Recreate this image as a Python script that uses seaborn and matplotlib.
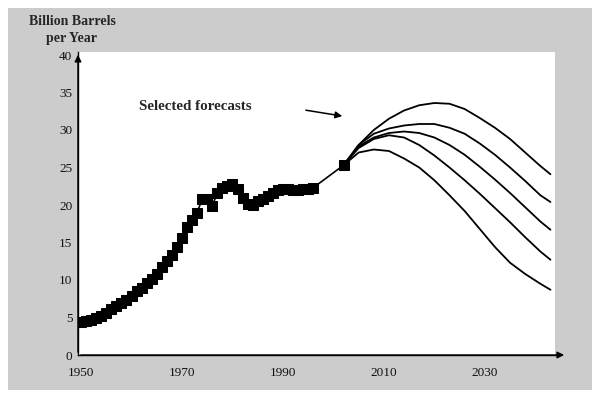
import pandas as pd
import seaborn as sns
import matplotlib.pyplot as plt
from matplotlib.patches import Rectangle

# historical production, billion barrels per year
hist_years = list(range(1950, 1997)) + [2002]
hist_values = [4.4, 4.5, 4.7, 4.9, 5.2, 5.6, 6.2, 6.6, 7.0, 7.3,
               7.9, 8.6, 9.0, 9.6, 10.2, 10.8, 11.7, 12.6, 13.4, 14.4,
               15.6, 17.1, 18.0, 19.0, 20.8, 20.8, 19.9, 21.6, 22.3, 22.5,
               22.8, 22.2, 21.0, 20.1, 20.0, 20.6, 20.8, 21.2, 21.6, 22.0,
               22.1, 22.1, 22.0, 22.0, 22.1, 22.2, 22.3, 25.3]

# selected forecasts
fc_years = [2002, 2005, 2008, 2011, 2014, 2017, 2020, 2023, 2026, 2029, 2032, 2035, 2038, 2041, 2043]
fc_1 = [25.3, 28.0, 30.0, 31.5, 32.6, 33.3, 33.6, 33.5, 32.8, 31.6, 30.3, 28.8, 27.0, 25.2, 24.1]
fc_2 = [25.3, 28.0, 29.5, 30.2, 30.6, 30.8, 30.8, 30.3, 29.5, 28.2, 26.7, 25.0, 23.2, 21.3, 20.4]
fc_3 = [25.3, 27.8, 29.0, 29.6, 29.8, 29.6, 29.0, 28.0, 26.7, 25.1, 23.4, 21.6, 19.7, 17.8, 16.7]
fc_4 = [25.3, 27.6, 28.8, 29.3, 29.0, 28.0, 26.6, 25.0, 23.3, 21.5, 19.6, 17.7, 15.7, 13.8, 12.7]
fc_5 = [25.3, 27.0, 27.4, 27.2, 26.2, 25.0, 23.3, 21.3, 19.2, 16.8, 14.4, 12.3, 10.8, 9.5, 8.7]

y_ticks = [0, 5, 10, 15, 20, 25, 30, 35, 40]
x_ticks = [1950, 1970, 1990, 2010, 2030]

hist = pd.DataFrame({'year': hist_years, 'value': hist_values})
fc = pd.concat([pd.DataFrame({'year': fc_years, 'value': v, 'scenario': i})
                for i, v in enumerate([fc_1, fc_2, fc_3, fc_4, fc_5])])

sns.set_style('white')
plt.rcParams['font.family'] = ['Liberation Serif', 'DejaVu Serif']

fig = plt.figure(figsize=(6, 3.98), dpi=100)
fig.patch.set_facecolor('white')
# gray panel behind the chart
fig.patches.append(Rectangle((8 / 600, 8 / 398), 584 / 600, 382 / 398,
                             transform=fig.transFigure, facecolor='#cccccc',
                             edgecolor='none', zorder=-10))

ax = fig.add_axes([78 / 600, 43 / 398, 477 / 600, 303 / 398])
ax.set_facecolor('white')

sns.lineplot(data=fc, x='year', y='value', hue='scenario', palette=['black'] * 5,
             legend=False, linewidth=1.3, ax=ax)
sns.lineplot(data=hist, x='year', y='value', color='black', marker='s',
             markersize=7, markeredgecolor='black', linewidth=1.2, ax=ax)

ax.set_xlim(1949.4, 2043.9)
ax.set_ylim(0, 40.4)
ax.set_xticks(x_ticks)
ax.set_yticks(y_ticks)
ax.tick_params(axis='both', length=0, labelsize=9.5, labelcolor='#111111')
ax.tick_params(axis='x', pad=9)
ax.tick_params(axis='y', pad=4)
ax.set_xlabel('')
ax.set_ylabel('')

for s in ['top', 'right']:
    ax.spines[s].set_visible(False)
for s in ['left', 'bottom']:
    ax.spines[s].set_color('black')
    ax.spines[s].set_linewidth(1)

# axis arrows
ax.annotate('', xy=(1.025, 0), xytext=(0, 0), xycoords='axes fraction',
            arrowprops=dict(arrowstyle='-|>', color='black', lw=1,
                            mutation_scale=10), annotation_clip=False)
ax.annotate('', xy=(0, 1.0), xytext=(0, 0), xycoords='axes fraction',
            arrowprops=dict(arrowstyle='-|>', color='black', lw=1,
                            mutation_scale=10), annotation_clip=False)

fig.text(72 / 600, 1 - 30 / 398, 'Billion Barrels\nper Year', ha='center',
         va='center', fontsize=10, fontweight='bold', linespacing=1.35)

ax.text(1961.5, 33.2, 'Selected forecasts', fontsize=10.8, fontweight='bold',
        ha='left', va='center')
ax.annotate('', xy=(2002.3, 31.8), xytext=(1994.0, 32.7),
            arrowprops=dict(arrowstyle='-|>', color='black', lw=1.1,
                            mutation_scale=10))

fig.savefig('out.png', dpi=100)
